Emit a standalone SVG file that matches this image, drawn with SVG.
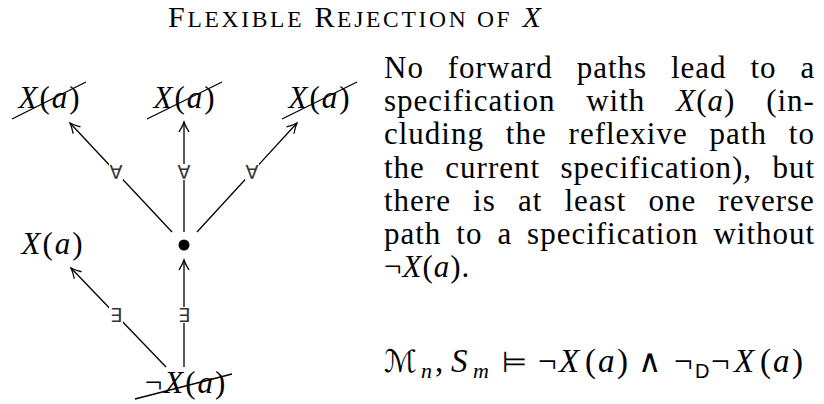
<svg xmlns="http://www.w3.org/2000/svg" width="824" height="404" viewBox="0 0 824 404">
<defs>
<marker id="arr" viewBox="-12 -7 14 14" refX="0" refY="0" markerWidth="14" markerHeight="14" markerUnits="userSpaceOnUse" orient="auto">
<path d="M-10,-5 Q-4,-1.3 0,0 Q-4,1.3 -10,5" fill="none" stroke="#000" stroke-width="1.3"/>
</marker>
</defs>
<style>
.rm{font-family:"Liberation Serif","Times New Roman",serif;font-size:30px;fill:#000}
.it{font-style:italic}
.math{font-family:"Liberation Serif","Times New Roman",serif;font-size:31px;fill:#000;letter-spacing:2px}
.sym{font-family:"DejaVu Sans",sans-serif;font-size:19px;fill:#333;text-anchor:middle}
.bg{fill:#fff}
.edge{stroke:#000;stroke-width:1.3;fill:none}
.strike{stroke:#000;stroke-width:1.3;fill:none}
.para{font-family:"Liberation Serif","Times New Roman",serif;font-size:31px;fill:#000;letter-spacing:1px}
.fm{font-family:"Liberation Serif","Times New Roman",serif;font-size:33px;fill:#000}
.sub{font-size:22px;font-style:italic}
</style>
<rect width="824" height="404" fill="#fff"/>

<g id="title">
<text class="rm" x="168" y="27" style="letter-spacing:2.7px">F<tspan font-size="23.5">LEXIBLE</tspan> R<tspan font-size="23.5">EJECTION OF</tspan> <tspan class="it">X</tspan></text>
</g>

<g id="connectors">
<path class="edge" d="M172,232 L70,123" marker-end="url(#arr)"/>
<path class="edge" d="M184,232 L184,122" marker-end="url(#arr)"/>
<path class="edge" d="M197,232 L297,123" marker-end="url(#arr)"/>
<path class="edge" d="M166,367 L71,268" marker-end="url(#arr)"/>
<path class="edge" d="M184,367 L184,260" marker-end="url(#arr)"/>
<g id="edge-labels">
<rect class="bg" x="109" y="164" width="14" height="16"/>
<text class="sym" x="116" y="179">∀</text>
<rect class="bg" x="177" y="164" width="14" height="16"/>
<text class="sym" x="184" y="179">∀</text>
<rect class="bg" x="245" y="164" width="14" height="16"/>
<text class="sym" x="252" y="179">∀</text>
<rect class="bg" x="109" y="307" width="14" height="16"/>
<text class="sym" x="116" y="322">∃</text>
<rect class="bg" x="177" y="307" width="14" height="16"/>
<text class="sym" x="184" y="322">∃</text>
</g>
</g>

<g id="node-top-left">
<text class="math" x="50" y="108" text-anchor="middle"><tspan class="it">X</tspan>(<tspan class="it">a</tspan>)</text>
<line class="strike" x1="12" y1="119" x2="86" y2="82"/>
</g>
<g id="node-top-middle">
<text class="math" x="185" y="108" text-anchor="middle"><tspan class="it">X</tspan>(<tspan class="it">a</tspan>)</text>
<line class="strike" x1="147" y1="119" x2="222" y2="82"/>
</g>
<g id="node-top-right">
<text class="math" x="320" y="108" text-anchor="middle"><tspan class="it">X</tspan>(<tspan class="it">a</tspan>)</text>
<line class="strike" x1="282" y1="119" x2="357" y2="82"/>
</g>
<g id="node-mid-left">
<text class="math" x="53" y="254" text-anchor="middle"><tspan class="it">X</tspan>(<tspan class="it">a</tspan>)</text>
</g>
<g id="node-current">
<circle cx="184" cy="245" r="5.5" fill="#000"/>
</g>
<g id="node-bottom">
<text class="math" x="186" y="393" text-anchor="middle">¬<tspan class="it">X</tspan>(<tspan class="it">a</tspan>)</text>
<line class="strike" x1="135" y1="399" x2="232" y2="374"/>
</g>

<g id="description">
<text class="para" x="384" y="78" word-spacing="15.1">No forward paths lead to a</text>
<text class="para" x="384" y="111.2" word-spacing="22.1">specification with <tspan class="it">X</tspan>(<tspan class="it">a</tspan>) (in-</text>
<text class="para" x="384" y="144.4" word-spacing="13.1">cluding the reflexive path to</text>
<text class="para" x="384" y="177.6" word-spacing="11.7">the current specification), but</text>
<text class="para" x="384" y="210.8" word-spacing="13.4">there is at least one reverse</text>
<text class="para" x="384" y="244" word-spacing="6.2">path to a specification without</text>
<text class="para" x="384" y="277">¬<tspan class="it">X</tspan>(<tspan class="it">a</tspan>).</text>
</g>

<g id="formula" class="fm">
<text x="384" y="372" font-family="DejaVu Serif, DejaVu Sans, serif" font-size="31">ℳ</text>
<text class="sub" x="421" y="378">n</text>
<text x="435" y="372">,</text>
<text x="451" y="372" font-style="italic">S</text>
<text class="sub" x="473" y="378">m</text>
<text x="502" y="372" font-family="DejaVu Sans, sans-serif" font-size="29">⊨</text>
<text x="538" y="372">¬</text>
<text x="559" y="372" font-style="italic">X</text>
<text x="585" y="372">(</text>
<text x="598" y="372" font-style="italic">a</text>
<text x="617" y="372">)</text>
<text x="638" y="372" font-family="DejaVu Sans, sans-serif" font-size="32">∧</text>
<text x="674" y="372">¬</text>
<text x="695" y="378" font-family="Liberation Sans, Arial, sans-serif" font-size="20">D</text>
<text x="711" y="372">¬</text>
<text x="734" y="372" font-style="italic">X</text>
<text x="760" y="372">(</text>
<text x="773" y="372" font-style="italic">a</text>
<text x="792" y="372">)</text>
</g>
</svg>
